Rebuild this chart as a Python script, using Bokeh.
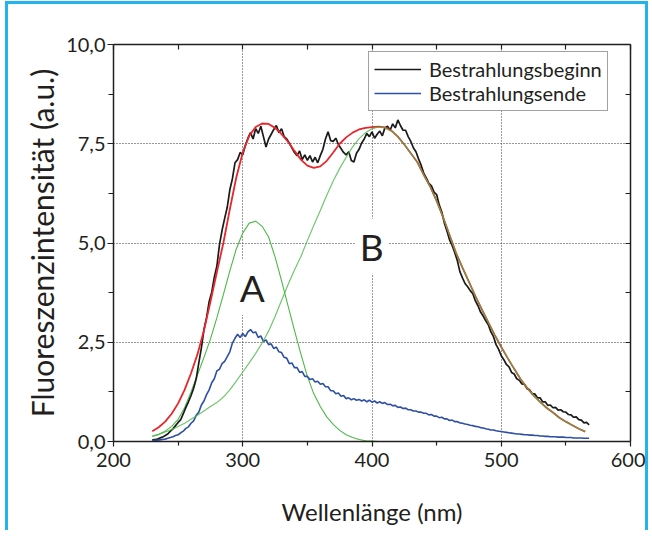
from bokeh.plotting import figure
from bokeh.models import (LinearAxis, Range1d, FixedTicker, Label, Legend, LegendItem,
                          CustomJSTickFormatter, ColumnDataSource)
from bokeh.embed import file_html
from bokeh.resources import INLINE

# ---------------- data ----------------
x_ticks = [200, 300, 400, 500, 600]
x_minor = [250, 350, 450, 550]
y_ticks = [0, 2.5, 5, 7.5, 10]
y_minor = [1.25, 3.75, 6.25, 8.75]

wl_meas = list(range(230, 570, 2))   # 230 ... 568 nm
beginn = [
    0.04, 0.05, 0.06, 0.09, 0.11, 0.15, 0.19, 0.26, 0.32, 0.40,
    0.48, 0.55, 0.70, 0.86, 1.00, 1.16, 1.34, 1.58, 1.98, 2.36,
    2.82, 3.12, 3.52, 3.76, 4.14, 4.42, 4.96, 5.32, 5.62, 5.90,
    6.34, 6.62, 7.02, 7.10, 7.28, 7.22, 7.46, 7.64, 7.78, 7.62,
    7.88, 7.76, 7.94, 7.68, 7.42, 7.62, 7.74, 7.86, 7.96, 7.78,
    7.88, 7.68, 7.62, 7.52, 7.40, 7.28, 7.20, 7.32, 7.10, 7.22,
    7.08, 7.20, 7.04, 7.16, 7.02, 7.20, 7.36, 7.62, 7.80, 7.58,
    7.56, 7.64, 7.48, 7.38, 7.28, 7.22, 7.30, 7.08, 7.04, 7.26,
    7.36, 7.52, 7.62, 7.76, 7.68, 7.80, 7.64, 7.74, 7.82, 7.70,
    7.90, 7.94, 7.84, 8.00, 7.90, 8.10, 7.96, 7.84, 7.84, 7.68,
    7.56, 7.40, 7.30, 7.12, 6.96, 6.76, 6.64, 6.50, 6.44, 6.28,
    6.22, 5.96, 5.78, 5.50, 5.30, 5.08, 4.94, 4.76, 4.56, 4.28,
    4.12, 3.98, 3.90, 3.80, 3.72, 3.54, 3.42, 3.26, 3.16, 3.04,
    2.94, 2.76, 2.64, 2.44, 2.32, 2.16, 2.06, 1.94, 1.88, 1.74,
    1.70, 1.58, 1.54, 1.45, 1.44, 1.33, 1.30, 1.20, 1.20, 1.10,
    1.10, 1.00, 1.00, 0.91, 0.92, 0.85, 0.86, 0.79, 0.80, 0.75,
    0.74, 0.68, 0.67, 0.61, 0.62, 0.55, 0.54, 0.47, 0.48, 0.42,
]
ende = [
    0.02, 0.03, 0.03, 0.04, 0.05, 0.06, 0.08, 0.10, 0.12, 0.15,
    0.17, 0.22, 0.26, 0.33, 0.37, 0.46, 0.52, 0.66, 0.74, 0.92,
    1.02, 1.18, 1.30, 1.48, 1.58, 1.78, 1.82, 1.96, 2.02, 2.14,
    2.26, 2.48, 2.60, 2.70, 2.62, 2.72, 2.64, 2.76, 2.82, 2.74,
    2.76, 2.62, 2.66, 2.52, 2.56, 2.44, 2.46, 2.34, 2.38, 2.26,
    2.24, 2.12, 2.10, 1.96, 1.98, 1.86, 1.86, 1.74, 1.76, 1.64,
    1.64, 1.56, 1.58, 1.50, 1.52, 1.44, 1.46, 1.38, 1.38, 1.28,
    1.28, 1.20, 1.22, 1.14, 1.16, 1.08, 1.10, 1.05, 1.08, 1.04,
    1.06, 1.02, 1.05, 1.00, 1.04, 0.99, 1.02, 0.97, 1.00, 0.96,
    0.98, 0.93, 0.94, 0.90, 0.91, 0.86, 0.87, 0.83, 0.84, 0.80,
    0.80, 0.77, 0.77, 0.74, 0.74, 0.71, 0.71, 0.67, 0.68, 0.64,
    0.64, 0.60, 0.61, 0.57, 0.57, 0.53, 0.54, 0.50, 0.50, 0.47,
    0.46, 0.44, 0.43, 0.41, 0.40, 0.38, 0.37, 0.35, 0.34, 0.32,
    0.31, 0.29, 0.29, 0.27, 0.26, 0.25, 0.24, 0.23, 0.22, 0.21,
    0.20, 0.19, 0.19, 0.18, 0.17, 0.17, 0.16, 0.16, 0.15, 0.15,
    0.14, 0.14, 0.13, 0.13, 0.12, 0.12, 0.12, 0.11, 0.11, 0.11,
    0.10, 0.10, 0.10, 0.09, 0.09, 0.09, 0.09, 0.08, 0.08, 0.08,
]

wl_fit = list(range(230, 570, 5))    # 230 ... 565 nm
fit_A = [
    0.13, 0.18, 0.26, 0.38, 0.56, 0.85, 1.25, 1.68, 2.12, 2.58,
    3.12, 3.70, 4.30, 4.85, 5.25, 5.50, 5.55, 5.42, 5.15, 4.65,
    4.05, 3.42, 2.80, 2.20, 1.64, 1.20, 0.88, 0.62, 0.43, 0.28,
    0.17, 0.10, 0.05, 0.02, 0.01, 0.00, 0.00, 0.00, 0.00, 0.00,
    0.00, 0.00, 0.00, 0.00, 0.00, 0.00, 0.00, 0.00, 0.00, 0.00,
    0.00, 0.00, 0.00, 0.00, 0.00, 0.00, 0.00, 0.00, 0.00, 0.00,
    0.00, 0.00, 0.00, 0.00, 0.00, 0.00, 0.00, 0.00,
]
fit_B = [
    0.13, 0.18, 0.24, 0.30, 0.38, 0.46, 0.56, 0.66, 0.77, 0.88,
    0.98, 1.12, 1.30, 1.52, 1.75, 1.98, 2.22, 2.48, 2.78, 3.15,
    3.55, 3.95, 4.32, 4.66, 5.06, 5.45, 5.82, 6.20, 6.56, 6.88,
    7.16, 7.42, 7.63, 7.78, 7.88, 7.92, 7.90, 7.82, 7.68, 7.48,
    7.26, 7.04, 6.72, 6.42, 6.06, 5.65, 5.20, 4.75, 4.38, 4.02,
    3.66, 3.33, 3.00, 2.68, 2.38, 2.10, 1.83, 1.57, 1.35, 1.16,
    1.00, 0.85, 0.73, 0.60, 0.50, 0.41, 0.32, 0.25,
]
fit_sum = [
    0.26, 0.36, 0.50, 0.70, 0.96, 1.30, 1.72, 2.20, 2.80, 3.52,
    4.27, 5.00, 5.85, 6.65, 7.28, 7.70, 7.92, 8.01, 8.00, 7.90,
    7.74, 7.55, 7.32, 7.10, 6.95, 6.89, 6.93, 7.07, 7.28, 7.50,
    7.66, 7.78, 7.86, 7.90, 7.92, 7.93, 7.91, 7.83, 7.68, 7.48,
    7.26, 7.04, 6.72, 6.42, 6.06, 5.65, 5.20, 4.75, 4.38, 4.02,
    3.66, 3.33, 3.00, 2.68, 2.38, 2.10, 1.83, 1.57, 1.35, 1.16,
    1.00, 0.85, 0.73, 0.60, 0.50, 0.41, 0.32, 0.25,
]

# ---------------- styling ----------------
FONT = "Lato"
INK = "#231F20"
EDGE = "#23B4EE"

p = figure(width=643, height=529, x_range=Range1d(200, 600), y_range=Range1d(0, 10),
           output_backend="svg", toolbar_location=None,
           min_border_left=105, min_border_right=21, min_border_top=40, min_border_bottom=92,
           background_fill_color="white", border_fill_color="white")
p.outline_line_color = None
p.styles = {"border-top": "3px solid " + EDGE, "border-left": "3px solid " + EDGE,
            "border-right": "3px solid " + EDGE, "margin-left": "5px", "margin-top": "1px"}

xt = FixedTicker(ticks=x_ticks, minor_ticks=x_minor)
yt = FixedTicker(ticks=y_ticks, minor_ticks=y_minor)

for ax in p.xaxis:
    ax.ticker = xt
for ax in p.yaxis:
    ax.ticker = yt
    ax.formatter = CustomJSTickFormatter(code="return tick.toFixed(1).replace('.', ',');")

for ax in p.axis:
    ax.axis_line_color = INK
    ax.axis_line_width = 1.5
    ax.major_tick_line_color = INK
    ax.minor_tick_line_color = INK
    ax.major_tick_line_width = 1.2
    ax.minor_tick_line_width = 1.2
    ax.major_label_text_font = FONT
    ax.major_label_text_font_size = "20px"
    ax.major_label_text_color = INK
    ax.axis_label_text_font = FONT
    ax.axis_label_text_font_style = "normal"
    ax.axis_label_text_color = INK

p.xaxis.axis_label = "Wellenlänge (nm)"
p.xaxis.axis_label_text_font_size = "24px"
p.xaxis.major_tick_out = 5
p.xaxis.major_tick_in = 0
p.xaxis.minor_tick_out = 4
p.xaxis.minor_tick_in = 0
p.xaxis.major_label_standoff = 6
p.xaxis.axis_label_standoff = 27

p.yaxis.axis_label = "Fluoreszenzintensität (a.u.)"
p.yaxis.axis_label_text_font_size = "30px"
p.yaxis.major_tick_out = 6
p.yaxis.major_tick_in = 0
p.yaxis.minor_tick_out = 5
p.yaxis.minor_tick_in = 0
p.yaxis.major_label_standoff = 2
p.yaxis.axis_label_standoff = 3

blank = CustomJSTickFormatter(code="return '';")
top = LinearAxis(ticker=xt, formatter=blank, axis_line_color=INK,
                 axis_line_width=1.5, major_tick_in=5, major_tick_out=0,
                 minor_tick_in=5, minor_tick_out=0, major_tick_line_color=INK,
                 minor_tick_line_color=INK, major_tick_line_width=1.2,
                 minor_tick_line_width=1.2, major_label_standoff=0)
right = LinearAxis(ticker=yt, formatter=blank, axis_line_color=INK,
                   axis_line_width=1.5, major_tick_in=5, major_tick_out=0,
                   minor_tick_in=5, minor_tick_out=0, major_tick_line_color=INK,
                   minor_tick_line_color=INK, major_tick_line_width=1.2,
                   minor_tick_line_width=1.2, major_label_standoff=0)
p.add_layout(top, "above")
p.add_layout(right, "right")

for g in p.xgrid:
    g.ticker = xt
for g in p.ygrid:
    g.ticker = yt
p.grid.grid_line_color = "#333333"
p.grid.grid_line_dash = "1 2"
p.grid.grid_line_width = 1

src_m = ColumnDataSource(dict(x=wl_meas, beginn=beginn, ende=ende))
src_f = ColumnDataSource(dict(x=wl_fit, a=fit_A, b=fit_B, s=fit_sum))

p.line("x", "a", source=src_f, line_color="#4DB848", line_width=1.1)
r_black = p.line("x", "beginn", source=src_m, line_color="#1A1A1A", line_width=1.7)
r_blue = p.line("x", "ende", source=src_m, line_color="#2E4FA3", line_width=1.6)
p.line("x", "s", source=src_f, line_color="#E8262B", line_width=1.8)
p.line("x", "b", source=src_f, line_color="#4DB848", line_width=1.2, line_alpha=0.8)

for txt, xx, yy in [("A", 307.4, 3.88), ("B", 399.8, 4.92)]:
    p.add_layout(Label(x=xx, y=yy, text=txt, text_align="center", text_baseline="middle",
                       text_font=FONT, text_font_size="37px", text_color=INK,
                       background_fill_color="white", padding=5))

legend = Legend(items=[LegendItem(label="Bestrahlungsbeginn", renderers=[r_black]),
                       LegendItem(label="Bestrahlungsende", renderers=[r_blue])],
                location=(255, 330), label_text_font=FONT, label_text_font_size="20px",
                label_text_color=INK, glyph_width=47, glyph_height=22, label_height=22,
                label_standoff=8, padding=5, spacing=0, margin=0,
                border_line_color="#444444", border_line_width=1,
                background_fill_color="white", background_fill_alpha=1)
p.add_layout(legend)

open("out.html", "w").write(file_html(p, INLINE))
